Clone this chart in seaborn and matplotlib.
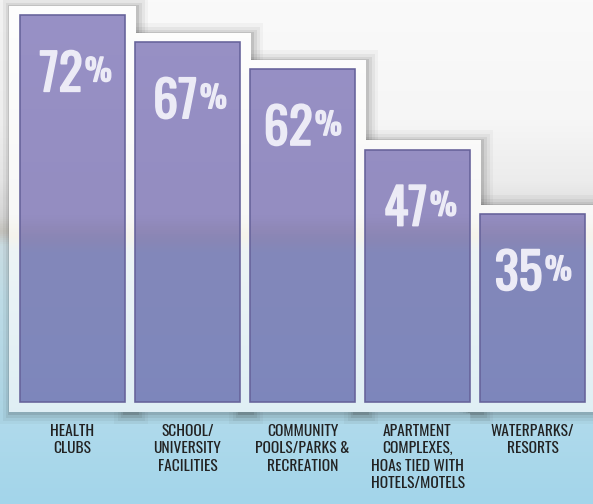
import numpy as np
import pandas as pd
import matplotlib
matplotlib.use("Agg")
import matplotlib.pyplot as plt
import seaborn as sns
from matplotlib.colors import LinearSegmentedColormap
import matplotlib.patheffects as pe

# ---- data ----
categories = ["HEALTH\nCLUBS",
              "SCHOOL/\nUNIVERSITY\nFACILITIES",
              "COMMUNITY\nPOOLS/PARKS &\nRECREATION",
              "APARTMENT\nCOMPLEXES,\nHOAs TIED WITH\nHOTELS/MOTELS",
              "WATERPARKS/\nRESORTS"]
values = [72, 67, 62, 47, 35]
value_labels = ["72", "67", "62", "47", "35"]

sns.set_theme(style="white")
plt.rcParams['font.family'] = ['Oswald', 'Barlow Condensed', 'DejaVu Sans']

DPI = 72
W, H = 593, 504
fig = plt.figure(figsize=(W / DPI, H / DPI), dpi=DPI)
ax = fig.add_axes([0, 0, 1, 1])

PX_PER_CAT = 115.0
PX_PER_UNIT = 5.37
X0_PX = 72.5      # pixel of first category center
BASE_PX = 102.0   # pixel (from bottom) of zero line
xmin, xmax = -X0_PX / PX_PER_CAT, (W - X0_PX) / PX_PER_CAT
ymin, ymax = -BASE_PX / PX_PER_UNIT, (H - BASE_PX) / PX_PER_UNIT

pad = 9.5 / PX_PER_UNIT
df = pd.DataFrame({"cat": categories, "val": values})
df["frame"] = df["val"] + 2 * pad

grad = np.linspace(0, 1, 504).reshape(-1, 1)


def cmap(name, stops):
    return LinearSegmentedColormap.from_list(name, [(y / 504, c) for y, c in stops])


# background gradient (top -> bottom, in pixel rows)
bg = cmap("bg", [(0, "#fafafa"), (120, "#f6f6f6"), (180, "#ececec"),
                 (215, "#dcdcdc"), (232, "#cbc9c2"), (246, "#d0e3ea"),
                 (300, "#c3e2ee"), (504, "#a3d5ea")])
ax.imshow(grad, cmap=bg, extent=[xmin, xmax, ymin, ymax], origin="upper",
          aspect="auto", zorder=0)

# soft shadow under the frames
sns.barplot(data=df, x="cat", y="frame", bottom=-pad, width=1.1,
            color="white", saturation=1, errorbar=None, ax=ax, zorder=1)
for p in ax.containers[-1]:
    p.set_facecolor("none")
    p.set_edgecolor("none")
    p.set_path_effects([
        pe.Stroke(linewidth=22, foreground="#303030", alpha=0.04, offset=(1, -1)),
        pe.Stroke(linewidth=15, foreground="#303030", alpha=0.06, offset=(1, -1)),
        pe.Stroke(linewidth=9, foreground="#303030", alpha=0.08, offset=(1, -1)),
        pe.Stroke(linewidth=4, foreground="#303030", alpha=0.12, offset=(1, -1)),
    ])

# white frames
sns.barplot(data=df, x="cat", y="frame", bottom=-pad, width=1.1,
            color="white", saturation=1, errorbar=None, ax=ax, zorder=2)
frame_cmap = cmap("fr", [(0, "#fefefe"), (215, "#f8f8f7"), (236, "#f5f3ec"),
                         (250, "#edf4f6"), (504, "#d8ecf3")])
for p in ax.containers[-1]:
    p.set_edgecolor("none")
    im = ax.imshow(grad, cmap=frame_cmap, extent=[xmin, xmax, ymin, ymax],
                   origin="upper", aspect="auto", zorder=2.1)
    im.set_clip_path(p)

# purple bars
sns.barplot(data=df, x="cat", y="val", width=105 / 115, color="#9690c3",
            saturation=1, errorbar=None, ax=ax, zorder=3)
bar_cmap = cmap("bar", [(0, "#9891c6"), (215, "#948dc1"), (230, "#8f88b7"),
                        (240, "#8986b5"), (252, "#8388ba"), (504, "#7a86bd")])
for p in ax.containers[-1]:
    p.set_facecolor("none")
    p.set_edgecolor("#66629a")
    p.set_linewidth(1.6)
    p.set_zorder(3.2)
    im = ax.imshow(grad, cmap=bar_cmap, extent=[xmin, xmax, ymin, ymax],
                   origin="upper", aspect="auto", zorder=3.1)
    im.set_clip_path(p)

# value labels
label_color = "#ecebf6"
heavier = [pe.withStroke(linewidth=1.6, foreground=label_color)]
for i, (v, lab) in enumerate(zip(values, value_labels)):
    ax.annotate(lab, xy=(i, v), xytext=(10, -76), textcoords="offset points",
                ha="right", va="baseline", fontsize=50,
                color=label_color, zorder=5, path_effects=heavier)
    ax.annotate("%", xy=(i, v), xytext=(12.5, -66), textcoords="offset points",
                ha="left", va="baseline", fontsize=30,
                color=label_color, zorder=5, path_effects=heavier)

# category labels
for i, c in enumerate(categories):
    ax.annotate(c, xy=(i, 0), xytext=(0, -22), textcoords="offset points",
                ha="center", va="top", fontsize=15.5, color="#222222",
                fontweight="light", linespacing=1.2, zorder=5)

ax.set_xlim(xmin, xmax)
ax.set_ylim(ymin, ymax)
ax.set_axis_off()
fig.savefig("out.png", dpi=DPI)
